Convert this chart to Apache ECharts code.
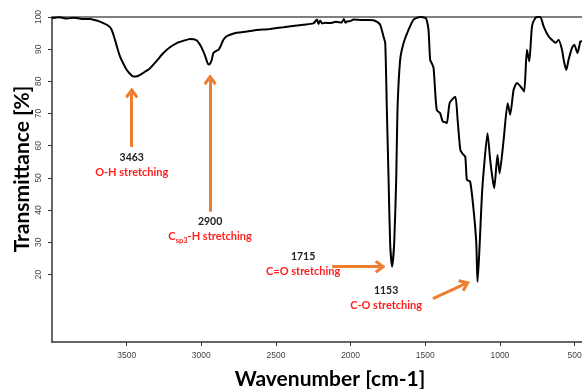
<!DOCTYPE html>
<html>
<head>
<meta charset="utf-8">
<title>IR spectrum</title>
<script src="https://cdn.jsdelivr.net/npm/echarts@6.0.0/dist/echarts.min.js"></script>
<style>
  html, body { margin: 0; padding: 0; background: #fff; }
  #chart { width: 582px; height: 389px; }
</style>
</head>
<body>
<div id="chart"></div>
<script>
// spectrum (wavenumber cm-1 / transmittance %)
var wavenumber = [4000, 3950, 3900, 3850, 3800, 3745, 3700, 3656, 3620, 3600, 3578, 3560, 3544, 3520, 3500, 3475, 3455, 3430, 3410, 3380,
  3343, 3300, 3254, 3210, 3164, 3120, 3075, 3050, 3030, 3010, 2997, 2975, 2952, 2940, 2930, 2919, 2900, 2885, 2870, 2852,
  2830, 2807, 2770, 2740, 2650, 2539, 2450, 2400, 2316, 2250, 2225, 2215, 2204, 2190, 2170, 2137, 2100, 2060, 2045, 2035,
  2025, 2000, 1980, 1930, 1880, 1847, 1820, 1802, 1780, 1768, 1757, 1746, 1735, 1722, 1708, 1694, 1686, 1668, 1645, 1612,
  1578, 1534, 1500, 1490, 1478, 1467, 1455, 1444, 1430, 1422, 1410, 1400, 1390, 1382, 1365, 1355, 1337, 1311, 1297, 1283,
  1265, 1250, 1232, 1221, 1199, 1176, 1158, 1150, 1140, 1130, 1120, 1110, 1083, 1065, 1050, 1038, 1016, 1002, 975, 948,
  931, 908, 886, 853, 837, 819, 803, 785, 763, 745, 729, 707, 674, 640, 625, 607, 584, 570, 555, 540,
  517, 502, 480, 461, 450];
var transmittance = [99.7, 99.9, 99.5, 99.8, 99.4, 99.4, 98.9, 98.1, 97.2, 96.0, 92.9, 90.0, 87.7, 85.3, 83.6, 82.2, 81.5, 81.6, 82.0, 82.9,
  84.1, 86.3, 88.8, 90.6, 91.9, 92.6, 93.2, 93.1, 92.7, 91.5, 90.4, 88.0, 85.2, 85.6, 86.7, 88.8, 89.5, 89.8, 91.0, 92.9,
  94.0, 94.5, 95.0, 95.2, 95.8, 96.3, 96.8, 97.1, 97.6, 98.0, 99.2, 97.8, 98.9, 98.0, 98.2, 98.1, 98.5, 98.3, 99.4, 98.2,
  98.6, 98.8, 99.2, 99.1, 99.1, 99.0, 98.4, 97.6, 94.0, 91.9, 71.0, 50.4, 29.6, 22.4, 29.6, 50.4, 71.0, 86.7, 91.9, 96.0,
  99.2, 100, 99.7, 99.0, 96.0, 86.7, 85.5, 84.1, 74.3, 71.0, 70.5, 70.1, 68.5, 67.5, 67.3, 67.0, 73.2, 74.8, 75.1, 68.0,
  58.7, 57.5, 56.6, 49.4, 48.8, 40.0, 29.6, 17.7, 25.0, 35.0, 45.0, 51.4, 63.9, 55.6, 50.0, 46.8, 57.1, 51.4, 61.8, 73.2,
  69.6, 77.4, 79.5, 77.9, 76.8, 89.8, 86.2, 97.1, 99.7, 100, 100, 97.1, 94.0, 92.4, 92.0, 92.9, 89.8, 86.0, 83.6, 86.7,
  90.4, 91.4, 88.8, 92.4, 92.5];
var xTicks = [3500, 3000, 2500, 2000, 1500, 1000, 500];
var yTicks = [20, 30, 40, 50, 60, 70, 80, 90, 100];

// peak annotations: label position and arrow from/to
var peakLabels = [
  { coord: [3466, 54], text: '{n|3463}\n{r|O-H stretching}' },
  { coord: [2941, 34], text: '{n|2900}\n{r|C}{sub|sp3}{r|-H stretching}' },
  { coord: [2318, 23.2], text: '{n|1715}\n{r|C=O stretching}' },
  { coord: [1762, 12.6], text: '{n|1153}\n{r|C-O stretching}' }
];
var peakArrows = [
  [[3466, 59.6], [3466, 76.4]],
  [[2941, 39.5], [2941, 80.5]],
  [[2123, 22.4], [1802, 22.4]],
  [[1449, 12.5], [1234, 17.05]]
];

function irChart() {
  var myChart = echarts.init(document.getElementById('chart'));
  var seriesData = wavenumber.map(function (w, i) {
    return [w, transmittance[i]];
  });

  var labelData = peakLabels.map(function (p) {
    return {
      coord: p.coord,
      symbol: 'circle',
      symbolSize: 1,
      itemStyle: { color: 'rgba(0,0,0,0)' },
      label: {
        show: true,
        position: 'inside',
        formatter: p.text,
        lineHeight: 15,
        rich: {
          n: { color: '#222', fontFamily: 'Lato', fontWeight: 'bold', fontSize: 10.5, lineHeight: 15 },
          r: { color: '#ff1f1f', fontFamily: 'Lato', fontWeight: 'bold', fontSize: 11, lineHeight: 15 },
          sub: { color: '#ff1f1f', fontFamily: 'Lato', fontWeight: 'bold', fontSize: 7.5, lineHeight: 15, verticalAlign: 'bottom', padding: [4, 0, 0, 0] }
        }
      }
    };
  });

  var arrowData = peakArrows.map(function (a) {
    return [{ coord: a[0] }, { coord: a[1] }];
  });

  var plainNum = function (v) { return String(v); };

  var option = {
    animation: false,
    grid: { left: 52, right: 0, top: 17, bottom: 47, containLabel: false, outerBoundsMode: 'none' },
    xAxis: [{
      type: 'value',
      min: 450,
      max: 4000,
      inverse: true,
      splitLine: { show: false },
      axisLine: { show: true, onZero: false, lineStyle: { color: '#333', width: 1.5 } },
      axisTick: { show: true, length: 4, customValues: xTicks, lineStyle: { color: '#333' } },
      axisLabel: { customValues: xTicks, formatter: plainNum, color: '#444', fontFamily: 'Liberation Sans', fontSize: 8.5, margin: 9 }
    }, {
      // top frame line
      type: 'value',
      position: 'top',
      min: 450,
      max: 4000,
      inverse: true,
      splitLine: { show: false },
      axisLine: { show: true, onZero: false, lineStyle: { color: '#555', width: 1.5 } },
      axisTick: { show: false },
      axisLabel: { show: false }
    }],
    yAxis: {
      type: 'value',
      min: -1,
      max: 100,
      splitLine: { show: false },
      axisLine: { show: true, onZero: false, lineStyle: { color: '#333', width: 1.5 } },
      axisTick: { show: true, length: 4, customValues: yTicks, lineStyle: { color: '#333' } },
      axisLabel: { customValues: yTicks, formatter: plainNum, rotate: 90, color: '#444', fontFamily: 'Liberation Sans', fontSize: 8.5, margin: 9 }
    },
    graphic: [{
      type: 'text',
      x: 22,
      y: 169,
      rotation: Math.PI / 2,
      style: {
        text: 'Transmittance [%]',
        fill: '#000',
        font: 'bold 21px Lato',
        align: 'center',
        verticalAlign: 'middle'
      }
    }, {
      type: 'text',
      x: 330,
      y: 379,
      style: {
        text: 'Wavenumber [cm-1]',
        fill: '#000',
        font: 'bold 21px Lato',
        align: 'center',
        verticalAlign: 'middle'
      }
    }],
    series: [{
      name: 'IR',
      type: 'line',
      data: seriesData,
      showSymbol: false,
      symbol: 'none',
      smooth: 0.2,
      lineStyle: { color: '#000', width: 2 },
      z: 3
    }, {
      // arrows and labels
      name: 'peaks',
      type: 'line',
      data: [],
      markLine: {
        silent: true,
        symbol: ['none', 'path://M6,0 L12,8 L10,10 L6,4.5 L2,10 L0,8 Z'],
        symbolSize: [13, 11],
        label: { show: false },
        lineStyle: { color: '#ed7d31', width: 3, type: 'solid' },
        itemStyle: { color: '#ed7d31' },
        data: arrowData
      },
      markPoint: {
        silent: true,
        data: labelData
      }
    }]
  };

  myChart.setOption(option);

  window.addEventListener('resize', function () {
    myChart.resize();
  });
}
irChart();
</script>
</body>
</html>
